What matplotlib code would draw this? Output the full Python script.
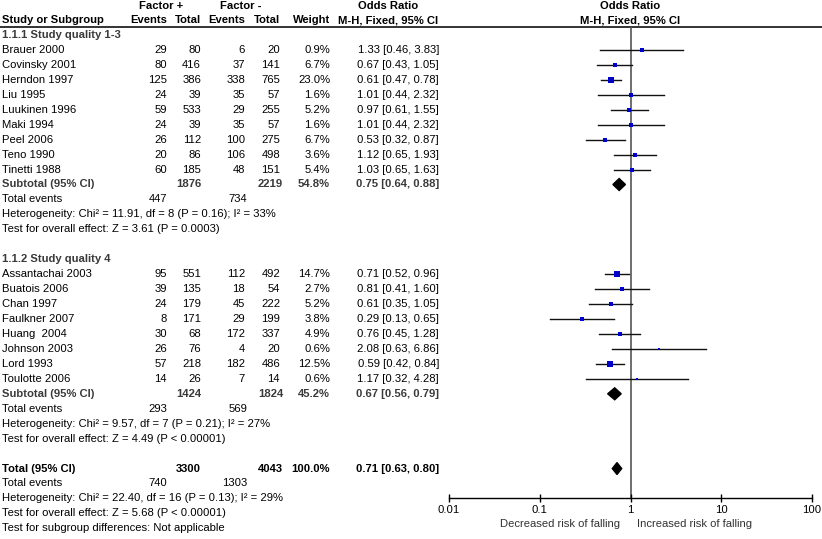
import numpy as np
import matplotlib.pyplot as plt
from matplotlib.ticker import FixedLocator, NullLocator

plt.rcParams['font.family'] = ['Liberation Sans', 'DejaVu Sans']

# study data, subgroup 1 (quality 1-3)
names_1 = ["Brauer 2000", "Covinsky 2001", "Herndon 1997", "Liu 1995", "Luukinen 1996",
           "Maki 1994", "Peel 2006", "Teno 1990", "Tinetti 1988"]
ev_pos_1 = [29, 80, 125, 24, 59, 24, 26, 20, 60]
tot_pos_1 = [80, 416, 386, 39, 533, 39, 112, 86, 185]
ev_neg_1 = [6, 37, 338, 35, 29, 35, 100, 106, 48]
tot_neg_1 = [20, 141, 765, 57, 255, 57, 275, 498, 151]
weight_1 = [0.9, 6.7, 23.0, 1.6, 5.2, 1.6, 6.7, 3.6, 5.4]
or_1 = [1.33, 0.67, 0.61, 1.01, 0.97, 1.01, 0.53, 1.12, 1.03]
lo_1 = [0.46, 0.43, 0.47, 0.44, 0.61, 0.44, 0.32, 0.65, 0.65]
hi_1 = [3.83, 1.05, 0.78, 2.32, 1.55, 2.32, 0.87, 1.93, 1.63]

# subgroup 2 (quality 4)
names_2 = ["Assantachai 2003", "Buatois 2006", "Chan 1997", "Faulkner 2007", "Huang  2004",
           "Johnson 2003", "Lord 1993", "Toulotte 2006"]
ev_pos_2 = [95, 39, 24, 8, 30, 26, 57, 14]
tot_pos_2 = [551, 135, 179, 171, 68, 76, 218, 26]
ev_neg_2 = [112, 18, 45, 29, 172, 4, 182, 7]
tot_neg_2 = [492, 54, 222, 199, 337, 20, 486, 14]
weight_2 = [14.7, 2.7, 5.2, 3.8, 4.9, 0.6, 12.5, 0.6]
or_2 = [0.71, 0.81, 0.61, 0.29, 0.76, 2.08, 0.59, 1.17]
lo_2 = [0.52, 0.41, 0.35, 0.13, 0.45, 0.63, 0.42, 0.32]
hi_2 = [0.96, 1.60, 1.05, 0.65, 1.28, 6.86, 0.84, 4.28]

# pooled results: subgroup 1, subgroup 2, overall
pool_labels = ["Subtotal (95% CI)", "Subtotal (95% CI)", "Total (95% CI)"]
pool_tot_pos = [1876, 1424, 3300]
pool_tot_neg = [2219, 1824, 4043]
pool_weight = [54.8, 45.2, 100.0]
pool_or = [0.75, 0.67, 0.71]
pool_lo = [0.64, 0.56, 0.63]
pool_hi = [0.88, 0.79, 0.80]
pool_ev_pos = [447, 293, 740]
pool_ev_neg = [734, 569, 1303]
het_text = ["Heterogeneity: Chi\u00b2 = 11.91, df = 8 (P = 0.16); I\u00b2 = 33%",
            "Heterogeneity: Chi\u00b2 = 9.57, df = 7 (P = 0.21); I\u00b2 = 27%",
            "Heterogeneity: Chi\u00b2 = 22.40, df = 16 (P = 0.13); I\u00b2 = 29%"]
effect_text = ["Test for overall effect: Z = 3.61 (P = 0.0003)",
               "Test for overall effect: Z = 4.49 (P < 0.00001)",
               "Test for overall effect: Z = 5.68 (P < 0.00001)"]
group_titles = ["1.1.1 Study quality 1-3", "1.1.2 Study quality 4"]

xticks = [0.01, 0.1, 1, 10, 100]
xtick_labels = ["0.01", "0.1", "1", "10", "100"]

# row layout
rows_1 = np.arange(1, 10)
rows_2 = np.arange(16, 24)
pool_rows = [10, 24, 29]
title_rows = [0, 15]

fs = 8.1
sq_col = "#0000cc"
sub_col = "#3a3a3a"

fig = plt.figure(figsize=(8.22, 5.39), dpi=100)

# text axes covering the whole figure, x in pixels, y in rows
ax_t = fig.add_axes([0, 0, 1, 1])
ax_t.set_xlim(0, 822)
ax_t.set_ylim((539 - 35) / 14.95, -35 / 14.95)
ax_t.axis("off")

col_x = {"ev_pos": 167, "tot_pos": 201, "ev_neg": 245, "tot_neg": 280, "weight": 330, "or": 439}

def txt(x, y, s, ha="left", bold=False, color="black", size=fs):
    ax_t.text(x, y, s, ha=ha, va="center", fontsize=size,
              fontweight="bold" if bold else "normal", color=color)

# header
txt(161, -1.95, "Factor +", ha="center", bold=True)
txt(241, -1.95, "Factor -", ha="center", bold=True)
txt(388, -1.95, "Odds Ratio", ha="center", bold=True)
txt(630, -1.95, "Odds Ratio", ha="center", bold=True)
txt(2, -1, "Study or Subgroup", bold=True)
txt(col_x["ev_pos"], -1, "Events", ha="right", bold=True)
txt(col_x["tot_pos"], -1, "Total", ha="right", bold=True)
txt(col_x["ev_neg"], -1, "Events", ha="right", bold=True)
txt(col_x["tot_neg"], -1, "Total", ha="right", bold=True)
txt(col_x["weight"], -1, "Weight", ha="right", bold=True)
txt(388, -1, "M-H, Fixed, 95% CI", ha="center", bold=True)
txt(630, -1, "M-H, Fixed, 95% CI", ha="center", bold=True)
ax_t.axhline(-0.535, color="#333333", lw=1.4)

# forest axes
ax = fig.add_axes([449 / 822, 1 - 498 / 539, (812 - 449) / 822, (498 - 27) / 539])
ax.set_xscale("log")
ax.set_xlim(0.01, 100)
ax.set_ylim((498 - 35) / 14.95, (27 - 35) / 14.95)
ax.patch.set_alpha(0)
for side in ["top", "left", "right"]:
    ax.spines[side].set_visible(False)
ax.spines["bottom"].set_linewidth(1)
ax.xaxis.set_major_locator(FixedLocator(xticks))
ax.xaxis.set_minor_locator(NullLocator())
ax.set_xticklabels(xtick_labels, fontsize=fs)
ax.tick_params(axis="x", direction="inout", length=6, width=1, pad=2)
ax.set_yticks([])
ax.axvline(1, color="#555555", lw=1.2, zorder=1)

groups = [
    (rows_1, names_1, ev_pos_1, tot_pos_1, ev_neg_1, tot_neg_1, weight_1, or_1, lo_1, hi_1),
    (rows_2, names_2, ev_pos_2, tot_pos_2, ev_neg_2, tot_neg_2, weight_2, or_2, lo_2, hi_2),
]

for g, (rows, names, ep, tp, en, tn, w, est, lo, hi) in enumerate(groups):
    txt(2, title_rows[g], group_titles[g], bold=True, color=sub_col)
    for i, r in enumerate(rows):
        txt(2, r, names[i])
        txt(col_x["ev_pos"], r, str(ep[i]), ha="right")
        txt(col_x["tot_pos"], r, str(tp[i]), ha="right")
        txt(col_x["ev_neg"], r, str(en[i]), ha="right")
        txt(col_x["tot_neg"], r, str(tn[i]), ha="right")
        txt(col_x["weight"], r, "%.1f%%" % w[i], ha="right")
        txt(col_x["or"], r, "%.2f [%.2f, %.2f]" % (est[i], lo[i], hi[i]), ha="right")
        ax.plot([lo[i], hi[i]], [r, r], color="#111111", lw=1, zorder=2)
        side = 2.2 + 0.85 * np.sqrt(w[i])
        ax.plot(est[i], r, marker="s", ms=side * 0.72, color=sq_col, mec=sq_col, mew=0, zorder=3)

# pooled rows
for k, r in enumerate(pool_rows):
    col = sub_col if k < 2 else "black"
    txt(2, r, pool_labels[k], bold=True, color=col)
    txt(col_x["tot_pos"], r, str(pool_tot_pos[k]), ha="right", bold=True, color=col)
    txt(col_x["tot_neg"] + 3, r, str(pool_tot_neg[k]), ha="right", bold=True, color=col)
    txt(col_x["weight"], r, "%.1f%%" % pool_weight[k], ha="right", bold=True, color=col)
    txt(col_x["or"], r, "%.2f [%.2f, %.2f]" % (pool_or[k], pool_lo[k], pool_hi[k]),
        ha="right", bold=True, color=col)
    ax.fill([pool_lo[k], pool_or[k], pool_hi[k], pool_or[k]],
            [r, r - 0.4, r, r + 0.4], color="black", zorder=3)
    txt(2, r + 1, "Total events")
    txt(col_x["ev_pos"], r + 1, str(pool_ev_pos[k]), ha="right")
    txt(col_x["ev_neg"] + 2, r + 1, str(pool_ev_neg[k]), ha="right")
    txt(2, r + 2, het_text[k])
    txt(2, r + 3, effect_text[k])

txt(2, 33, "Test for subgroup differences: Not applicable")

# axis captions
txt(620, (524 - 35) / 14.95, "Decreased risk of falling", ha="right", color="#333333")
txt(637, (524 - 35) / 14.95, "Increased risk of falling", color="#333333")

plt.savefig("out.png", dpi=100)
